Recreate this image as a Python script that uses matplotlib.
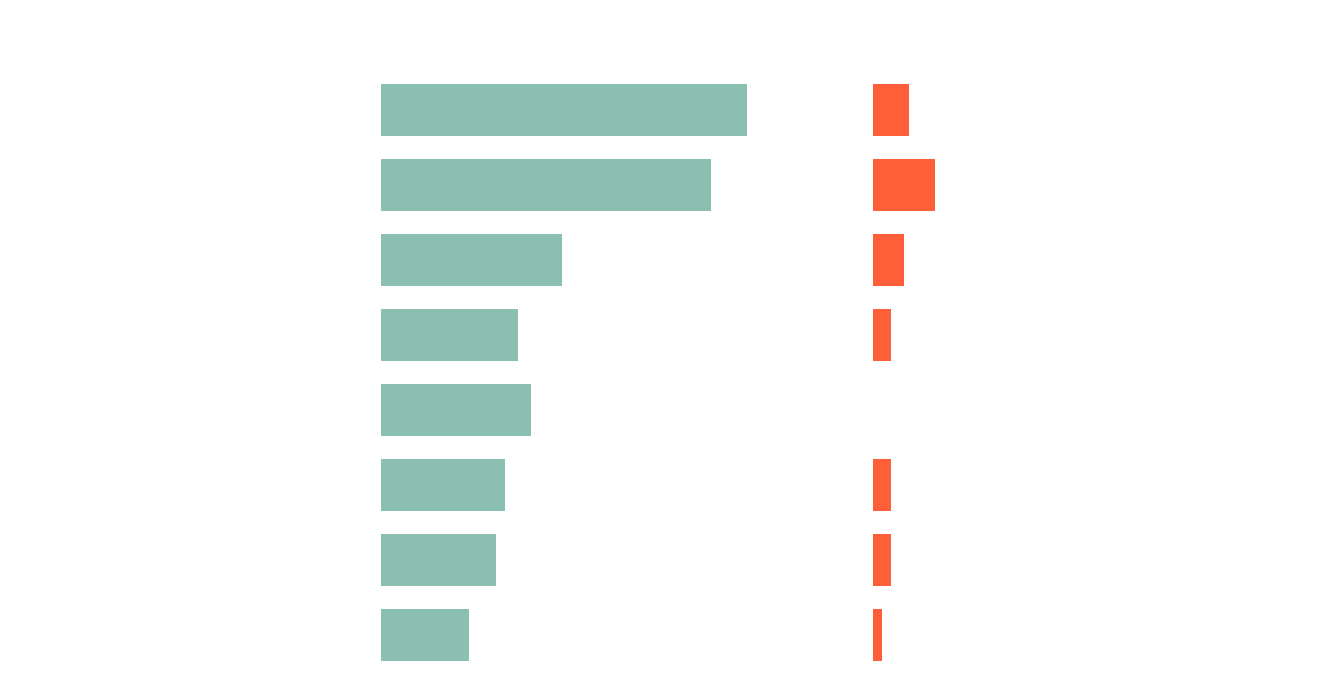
import matplotlib
matplotlib.use("Agg")
import matplotlib.pyplot as plt
import numpy as np

# values (same unit scale for both panels)
rows = ["r1", "r2", "r3", "r4", "r5", "r6", "r7", "r8"]
left_vals = [41.1, 37.1, 20.3, 15.4, 16.9, 13.9, 12.9, 9.9]
right_vals = [4.0, 7.0, 3.5, 2.0, 0.0, 2.0, 2.0, 1.0]

green = "#8abfb2"
orange = "#ff5f38"

fig = plt.figure(figsize=(13.44, 6.91), dpi=100)
ax1 = fig.add_axes([381/1344, 1 - 672.5/691, 450/1344, 600/691])
ax2 = fig.add_axes([873/1344, 1 - 672.5/691, 400/1344, 600/691])

y = np.arange(len(rows))
ax1.barh(y, left_vals, height=0.7, color=green)
ax2.barh(y, right_vals, height=0.7, color=orange)

ax1.set_xlim(0, 450/8.9)
ax2.set_xlim(0, 400/8.9)
for ax in (ax1, ax2):
    ax.set_ylim(7.5, -0.5)
    ax.axis("off")

fig.savefig("out.png", dpi=100, facecolor="white")
